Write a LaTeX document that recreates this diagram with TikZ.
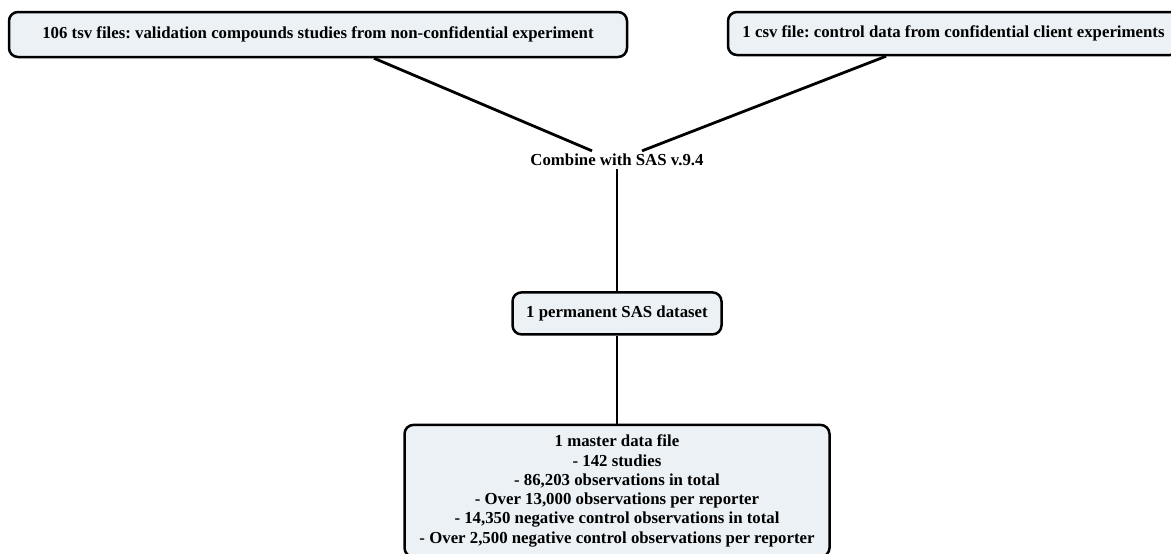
\documentclass[tikz,border=0pt]{standalone}
\usepackage{fontspec}
\setmainfont{Liberation Serif}
\usepackage{tikz}
\usetikzlibrary{positioning}
\definecolor{boxfill}{RGB}{235,241,245}
\frenchspacing

\begin{document}
\begin{tikzpicture}[
    x=1pt, y=-1pt,
    font=\fontsize{16.8}{19.3}\selectfont\bfseries,
    filebox/.style={rectangle, draw, line width=2.5pt, rounded corners=9pt, fill=boxfill, align=center},
    link/.style={line width=2.8pt}
]
\useasboundingbox (0,0) rectangle (1171,554);

\node[filebox, minimum width=618pt, minimum height=45pt] (tsv) at (318,34.5) {106 tsv files: validation compounds studies from non-confidential experiment};
\node[filebox, minimum width=451pt, minimum height=43pt] (csv) at (953.5,33.5) {1 csv file: control data from confidential client experiments};
\node[inner sep=3pt] (combine) at (617,160) {Combine with SAS v.9.4};
\node[filebox, below=122pt of combine, minimum width=209pt, minimum height=42pt] (sasdata) {1 permanent SAS dataset};
\node[filebox, below=88pt of sasdata, minimum width=425pt, minimum height=132pt] (master) {
    1 master data file\\
    - 142 studies\\
    - 86,203 observations in total\\
    - Over 13,000 observations per reporter\\
    - 14,350 negative control observations in total\\
    - Over 2,500 negative control observations per reporter
};

\draw[link] ([xshift=56pt]tsv.south) -- ([xshift=-25pt]combine.north);
\draw[link] ([xshift=-67.5pt]csv.south) -- ([xshift=25pt]combine.north);
\draw[link] (combine) -- (sasdata);
\draw[link] (sasdata) -- (master);

\end{tikzpicture}
\end{document}
